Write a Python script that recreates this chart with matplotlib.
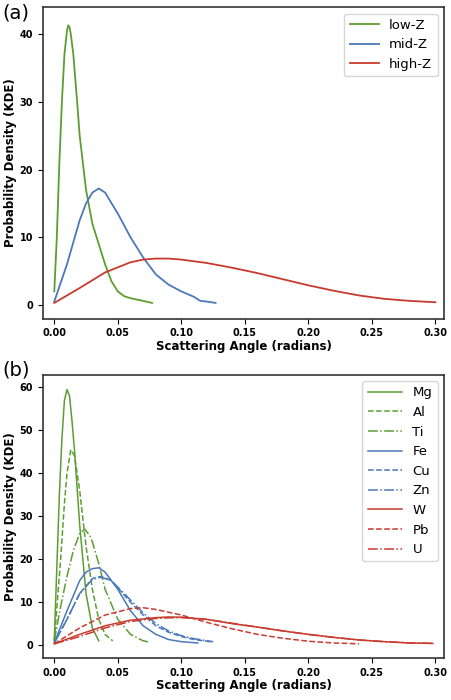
import matplotlib
matplotlib.use("Agg")
import matplotlib.pyplot as plt

G, B, R = "#5c9e32", "#4a78b8", "#c93a2e"

lowz_x = [0,0.002,0.004,0.006,0.008,0.01,0.011,0.012,0.013,0.015,0.018,0.02,0.025,0.03,0.035,0.04,0.045,0.05,0.055,0.06,0.07,0.077]
lowz_y = [2,10,21,30,37,40.5,41.3,41,40,37,30,25,17,12,9,6,3.5,2,1.3,1,0.6,0.3]
midz_x = [0,0.01,0.02,0.025,0.03,0.035,0.04,0.05,0.06,0.07,0.08,0.09,0.1,0.11,0.115,0.12,0.127]
midz_y = [0.5,6,12.5,15,16.6,17.2,16.6,13.5,10,7,4.5,3,2,1.2,0.6,0.5,0.3]
highz_x = [0,0.02,0.04,0.06,0.07,0.08,0.09,0.1,0.12,0.14,0.16,0.18,0.2,0.22,0.24,0.26,0.28,0.3]
highz_y = [0.3,2.5,4.8,6.3,6.7,6.85,6.85,6.7,6.2,5.5,4.7,3.8,2.9,2.1,1.4,0.9,0.6,0.4]

mg_x = [0,0.002,0.004,0.006,0.008,0.01,0.012,0.014,0.016,0.02,0.025,0.03,0.035]
mg_y = [1,18,35,48,57,59.5,58,52,45,28,12,4,1]
al_x = [0,0.005,0.008,0.01,0.013,0.016,0.02,0.025,0.03,0.035,0.04,0.046]
al_y = [1,20,33,40,45.5,44,36,23,13,6,2.5,1]
ti_x = [0,0.005,0.01,0.015,0.02,0.024,0.028,0.03,0.035,0.04,0.05,0.06,0.07,0.075]
ti_y = [1,9,16,22,26,27,25.5,24,19,13,6,2.5,1,0.7]
fe_x = [0,0.01,0.02,0.025,0.03,0.035,0.04,0.05,0.06,0.07,0.08,0.09,0.1,0.113]
fe_y = [0.5,8,15,17,17.8,18,17,13,8,4.5,2.5,1.3,0.8,0.5]
cu_x = [0,0.01,0.02,0.03,0.037,0.045,0.06,0.07,0.08,0.09,0.1,0.11,0.125]
cu_y = [0.5,6,12,15.5,16,15,10,7,4.5,3,2,1.3,0.7]
zn_x = cu_x
zn_y = [0.5,6,12,15.3,15.8,15,10.5,7.5,5,3.3,2.2,1.5,0.8]
w_x = [0,0.02,0.04,0.06,0.08,0.09,0.1,0.12,0.14,0.16,0.18,0.2,0.22,0.24,0.26,0.28,0.298]
w_y = [0.3,2.5,4.5,5.8,6.4,6.55,6.5,6,5,4.2,3.3,2.5,1.8,1.2,0.8,0.5,0.4]
pb_x = [0,0.02,0.04,0.06,0.07,0.08,0.1,0.12,0.14,0.16,0.18,0.2,0.22,0.24]
pb_y = [0.3,4,7,8.5,8.7,8.3,7,5.3,3.8,2.5,1.6,0.9,0.5,0.3]
u_x = w_x
u_y = [0.3,2,4,5.5,6.2,6.35,6.4,6,5.1,4.2,3.3,2.5,1.8,1.2,0.8,0.5,0.4]

fig = plt.figure(figsize=(4.51, 7), dpi=100)
ax1 = fig.add_axes([0.095, 0.545, 0.89, 0.445])
ax2 = fig.add_axes([0.095, 0.06, 0.89, 0.405])

def style(ax, ticks):
    ax.set_xlim(-0.009, 0.307)
    ax.set_xticks([0, 0.05, 0.1, 0.15, 0.2, 0.25, 0.3])
    ax.set_xticklabels(["0.00","0.05","0.10","0.15","0.20","0.25","0.30"])
    ax.set_yticks(ticks)
    for lab in ax.get_xticklabels() + ax.get_yticklabels():
        lab.set_fontweight("bold"); lab.set_fontsize(7)
    ax.set_xlabel("Scattering Angle (radians)", fontsize=8.5, fontweight="bold", labelpad=1)
    ax.set_ylabel("Probability Density (KDE)", fontsize=8.5, fontweight="bold", labelpad=2)
    for s in ax.spines.values():
        s.set_linewidth(1.2); s.set_color("#333333")

ax1.plot(lowz_x, lowz_y, color=G, lw=1.3, label="low-Z")
ax1.plot(midz_x, midz_y, color=B, lw=1.3, label="mid-Z")
ax1.plot(highz_x, highz_y, color=R, lw=1.3, label="high-Z")
ax1.set_ylim(-2, 44)
style(ax1, [0, 10, 20, 30, 40])
ax1.legend(loc="upper right", fontsize=9.5, handlelength=2.2)

series = [(mg_x, mg_y, G, "-", "Mg"), (al_x, al_y, G, "--", "Al"), (ti_x, ti_y, G, "-.", "Ti"),
          (fe_x, fe_y, B, "-", "Fe"), (cu_x, cu_y, B, "--", "Cu"), (zn_x, zn_y, B, "-.", "Zn"),
          (w_x, w_y, R, "-", "W"), (pb_x, pb_y, R, "--", "Pb"), (u_x, u_y, R, "-.", "U")]
for x, y, c, ls, lab in series:
    ax2.plot(x, y, color=c, ls=ls, lw=1.1, label=lab)
ax2.set_ylim(-3, 63)
style(ax2, [0, 10, 20, 30, 40, 50, 60])
ax2.legend(loc="upper right", fontsize=9.5, handlelength=2.6, labelspacing=0.5)

fig.text(0.005, 0.995, "(a)", fontsize=14, va="top")
fig.text(0.005, 0.485, "(b)", fontsize=14, va="top")
fig.savefig("out.png", dpi=100)
